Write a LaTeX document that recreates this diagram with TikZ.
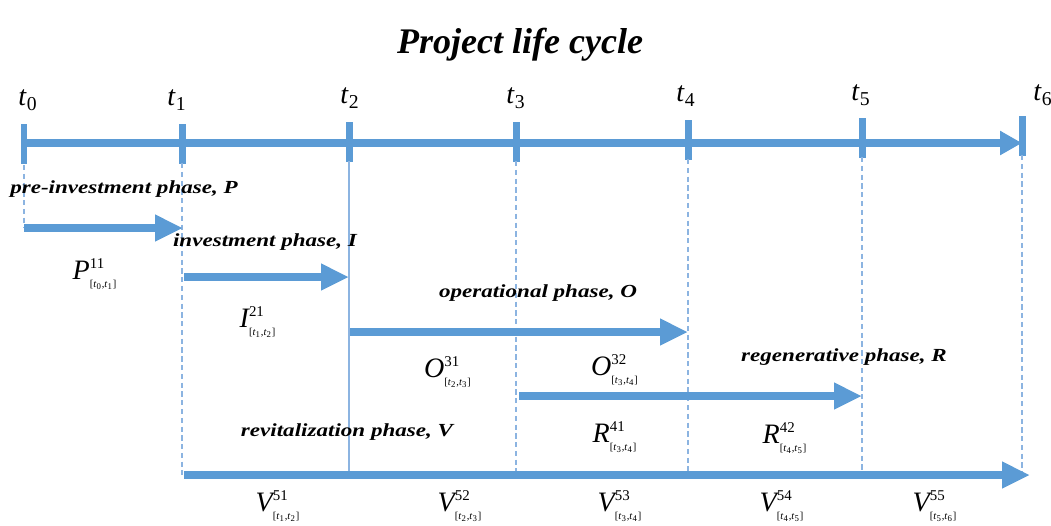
\documentclass[tikz,border=0pt]{standalone}
\usepackage{amsmath}
\usepackage{fontspec}
\usepackage{xcolor}
\usepackage{tikz}
\usetikzlibrary{arrows.meta}

\setmainfont{Liberation Serif}
\newfontfamily\phasefont[FakeStretch=1.25]{Liberation Serif}

\definecolor{lifeblue}{RGB}{91,155,213}
\definecolor{guideblue}{RGB}{140,180,225}

% symbol of a sub-phase: letter, indices, interval
\newcommand{\phsym}[4]{$\textit{#1}^{\mbox{\fontsize{8.5}{9}\selectfont #2}}_{\mbox{\fontsize{6}{7}\selectfont[\textit{t}\textsubscript{#3},\textit{t}\textsubscript{#4}]}}$}

\begin{document}
\begin{tikzpicture}[x=0.02cm, y=-0.02cm,
    axisline/.style={lifeblue, line width=0.16cm, -{Triangle[length=0.44cm, width=0.46cm]}},
    phasearrow/.style={lifeblue, line width=0.17cm, -{Triangle[length=0.56cm, width=0.5cm]}},
    tickmark/.style={lifeblue, line width=0.14cm},
    guide/.style={guideblue, line width=0.6pt, dash pattern=on 3pt off 2pt},
    phaselabel/.style={font=\phasefont\fontsize{10.5}{12}\selectfont\bfseries\itshape, inner sep=0pt},
    symlabel/.style={font=\fontsize{16}{18}\selectfont, inner sep=0pt},
    tlabel/.style={font=\fontsize{16}{18}\selectfont, inner sep=0pt}]
        \useasboundingbox (0,0) rectangle (1051,525);

        % Title
        \node[font=\fontsize{20.5}{24}\selectfont\bfseries\itshape] (title) at (520,45) {Project life cycle};

        % Time axis
        \coordinate (t0) at (24,143);
        \coordinate (t1) at (182,143);
        \coordinate (t2) at (349,143);
        \coordinate (t3) at (516,143);
        \coordinate (t4) at (688,143);
        \coordinate (t5) at (862,143);
        \coordinate (t6) at (1022,143);
        \draw[axisline] (t0) -- (t6);
        \draw[tickmark] (t0) ++(0,-19) -- ++(0,40);
        \draw[tickmark] (t1) ++(0,-19) -- ++(0,40);
        \draw[tickmark] (t2) ++(0,-21) -- ++(0,40);
        \draw[tickmark] (t3) ++(0,-21) -- ++(0,40);
        \draw[tickmark] (t4) ++(0,-23) -- ++(0,40);
        \draw[tickmark] (t5) ++(0,-25) -- ++(0,40);
        \draw[tickmark] (t6) ++(0,-27) -- ++(0,40);

        \node[tlabel] (lt0) at (28,100) {\textit{t}\textsubscript{0}};
        \node[tlabel] (lt1) at (177,100) {\textit{t}\textsubscript{1}};
        \node[tlabel] (lt2) at (350,98) {\textit{t}\textsubscript{2}};
        \node[tlabel] (lt3) at (516,98) {\textit{t}\textsubscript{3}};
        \node[tlabel] (lt4) at (686,96) {\textit{t}\textsubscript{4}};
        \node[tlabel] (lt5) at (861,95) {\textit{t}\textsubscript{5}};
        \node[tlabel] (lt6) at (1043,95) {\textit{t}\textsubscript{6}};

        % Phase arrows
        \coordinate (pS) at (24,228);
        \coordinate (pE) at (183,228);
        \coordinate (iS) at (184,277);
        \coordinate (iE) at (349,277);
        \coordinate (oS) at (350,332);
        \coordinate (oE) at (688,332);
        \coordinate (rS) at (519,396);
        \coordinate (rE) at (862,396);
        \coordinate (vS) at (184,475);
        \coordinate (vE) at (1030,475);

        % Guide lines
        \draw[guide] (t0) ++(0,22) -- (pS);
        \draw[guide] (t1) ++(0,20) -- (t1 |- vS);
        \draw[guideblue, line width=0.8pt] (t2) ++(0,18) -- (t2 |- vS);
        \draw[guide] (t3) ++(0,18) -- (t3 |- vS);
        \draw[guide] (t4) ++(0,16) -- (t4 |- vS);
        \draw[guide] (t5) ++(0,14) -- (t5 |- vS);
        \draw[guide] (t6) ++(0,12) -- (t6 |- vS);

        \draw[phasearrow] (pS) -- (pE);
        \draw[phasearrow] (iS) -- (iE);
        \draw[phasearrow] (oS) -- (oE);
        \draw[phasearrow] (rS) -- (rE);
        \draw[phasearrow] (vS) -- (vE);

        % Phase names
        \node[phaselabel] (nameP) at (124,189) {pre-investment phase, P};
        \node[phaselabel] (nameI) at (265,242) {investment phase, I};
        \node[phaselabel] (nameO) at (538,293) {operational phase, O};
        \node[phaselabel] (nameR) at (844,357) {regenerative phase, R};
        \node[phaselabel] (nameV) at (347,432) {revitalization phase, V};

        % Sub-phase symbols
        \node[symlabel] (P11) at (95,274) {\phsym{P}{11}{0}{1}};
        \node[symlabel] (I21) at (258,322) {\phsym{I}{21}{1}{2}};
        \node[symlabel] (O31) at (448,372) {\phsym{O}{31}{2}{3}};
        \node[symlabel] (O32) at (615,370) {\phsym{O}{32}{3}{4}};
        \node[symlabel] (R41) at (615,437) {\phsym{R}{41}{3}{4}};
        \node[symlabel] (R42) at (785,438) {\phsym{R}{42}{4}{5}};
        \node[symlabel] (V51) at (278,506) {\phsym{V}{51}{1}{2}};
        \node[symlabel] (V52) at (460,506) {\phsym{V}{52}{2}{3}};
        \node[symlabel] (V53) at (620,506) {\phsym{V}{53}{3}{4}};
        \node[symlabel] (V54) at (782,506) {\phsym{V}{54}{4}{5}};
        \node[symlabel] (V55) at (935,506) {\phsym{V}{55}{5}{6}};
\end{tikzpicture}
\end{document}
